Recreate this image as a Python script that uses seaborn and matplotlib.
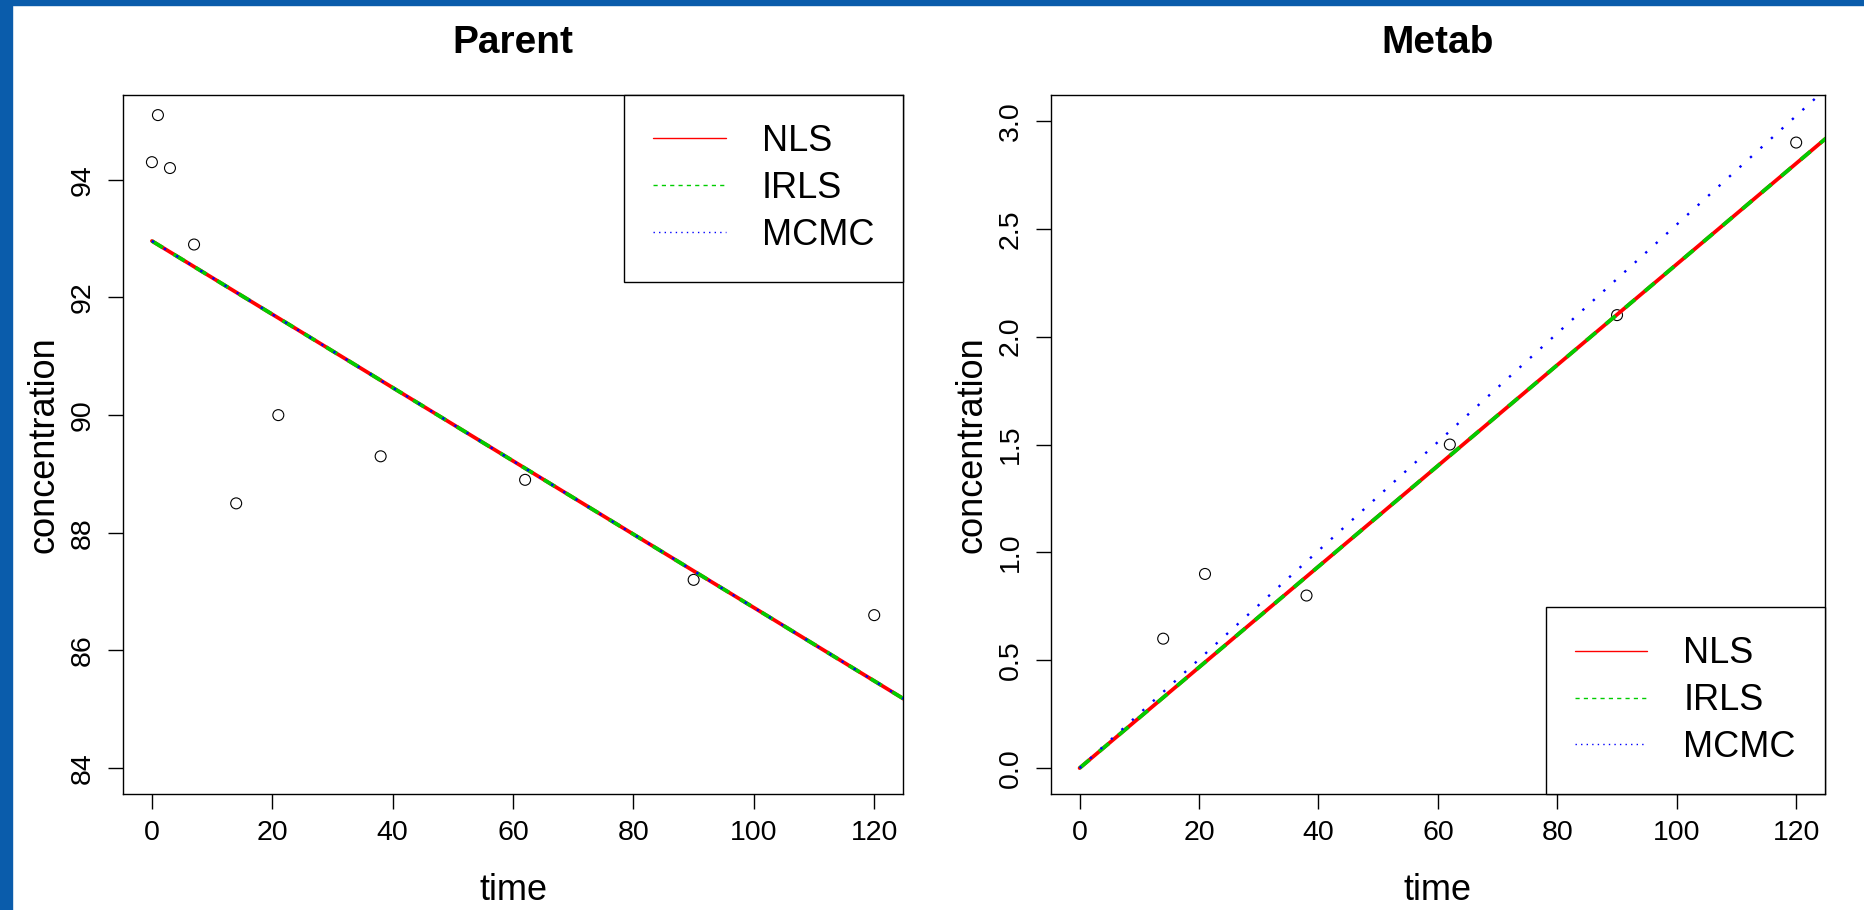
import matplotlib
matplotlib.use("Agg")
import seaborn as sns
from matplotlib import pyplot as plt
from matplotlib.lines import Line2D
from matplotlib.patches import Rectangle

# observed data
parent_time = [0, 1, 3, 7, 14, 21, 38, 62, 90, 120]
parent_obs = [94.3, 95.1, 94.2, 92.9, 88.5, 90.0, 89.3, 88.9, 87.2, 86.6]
metab_time = [14, 21, 38, 62, 90, 120]
metab_obs = [0.6, 0.9, 0.8, 1.5, 2.1, 2.9]

# fitted curves (at both ends)
fit_time = [0, 125]
parent_nls = [92.96, 85.17]
parent_irls = [92.96, 85.17]
parent_mcmc = [92.96, 85.17]
metab_nls = [0.0, 2.92]
metab_irls = [0.0, 2.92]
metab_mcmc = [0.0, 3.15]

methods = ["NLS", "IRLS", "MCMC"]
colors = ["#ff0000", "#00cd00", "#0000ff"]
x_ticks = [0, 20, 40, 60, 80, 100, 120]
parent_yticks = [84, 86, 88, 90, 92, 94]
metab_yticks = [0.0, 0.5, 1.0, 1.5, 2.0, 2.5, 3.0]

sns.set_style("ticks")
plt.rcParams["font.family"] = ["Liberation Sans", "DejaVu Sans"]
for key in ["text.color", "axes.labelcolor", "xtick.color", "ytick.color", "axes.edgecolor"]:
    plt.rcParams[key] = "black"
plt.rcParams["axes.linewidth"] = 1.0

fig = plt.figure(figsize=(18.64, 9.10), dpi=100)
ax1 = fig.add_axes([0.066, 0.1275, 0.4185, 0.768])
ax2 = fig.add_axes([0.5638, 0.1275, 0.4152, 0.768])

plot_styles = [dict(lw=2.7, linestyle="-"),
               dict(lw=2.7, linestyle=(0, (3.4, 3.4))),
               dict(lw=1.7, linestyle=(0, (1, 5)))]
legend_styles = ["-", (0, (3, 3)), (0, (1, 3))]


def draw_panel(ax, t_obs, y_obs, fits, title, ylim, yticks, yfmt, legend_loc):
    sns.scatterplot(x=t_obs, y=y_obs, ax=ax, marker="o", s=62,
                    facecolors="none", edgecolor="black", linewidth=0.8, zorder=2)
    for f, c, st in zip(fits, colors, plot_styles):
        sns.lineplot(x=fit_time, y=f, ax=ax, color=c, zorder=3, **st)

    ax.set_xlim(-4.8, 124.8)
    ax.set_ylim(*ylim)
    ax.set_xticks(x_ticks)
    ax.set_yticks(yticks)
    ax.set_yticklabels([yfmt.format(v) for v in yticks])
    ax.tick_params(axis="both", length=10.5, width=1.0, labelsize=20.5, color="black",
                   labelcolor="black")
    ax.tick_params(axis="x", pad=8)
    ax.tick_params(axis="y", pad=9, labelrotation=90)
    for lab in ax.get_yticklabels():
        lab.set_va("center")
    for sp in ax.spines.values():
        sp.set_visible(True)
        sp.set_color("black")

    ax.set_title(title, fontsize=28, fontweight="bold", pad=30, color="black")
    ax.set_xlabel("time", fontsize=26, labelpad=20)
    ax.set_ylabel("concentration", fontsize=26, labelpad=6)

    handles = [Line2D([], [], color=c, lw=1.0, linestyle=ls) for c, ls in zip(colors, legend_styles)]
    leg = ax.legend(handles, methods, loc=legend_loc, fontsize=26, borderaxespad=0,
                    frameon=True, fancybox=False, framealpha=1, edgecolor="black",
                    handlelength=2.0, handletextpad=1.0, borderpad=0.8, labelspacing=0.33)
    leg.get_frame().set_linewidth(1.0)


draw_panel(ax1, parent_time, parent_obs, [parent_nls, parent_irls, parent_mcmc],
           "Parent", (83.56, 95.44), parent_yticks, "{:.0f}", "upper right")
draw_panel(ax2, metab_time, metab_obs, [metab_nls, metab_irls, metab_mcmc],
           "Metab", (-0.12, 3.12), metab_yticks, "{:.1f}", "lower right")

# slide border
fig.patches.append(Rectangle((0, 0), 12 / 1864, 1, transform=fig.transFigure,
                             color="#0a5cab", zorder=10))
fig.patches.append(Rectangle((0, 1 - 5 / 910), 1, 5 / 910, transform=fig.transFigure,
                             color="#0a5cab", zorder=10))

fig.savefig("out.png", dpi=100)
